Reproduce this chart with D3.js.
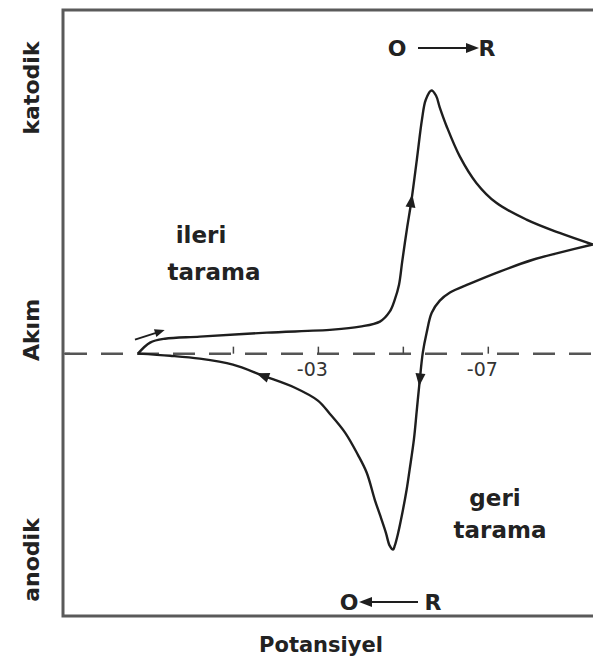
<!DOCTYPE html>
<html><head><meta charset="utf-8">
<script src="https://cdn.jsdelivr.net/npm/d3@7"></script>
<style>body{margin:0;background:#fff} svg{display:block}</style>
</head><body><svg id="chart" width="593" height="663"></svg>
<script>
// Cyclic voltammogram: potential (V) and current (arbitrary units)
// Forward (cathodic) sweep, from the start potential to the switching potential
const forwardE = [0.1235, 0.095, 0.06, -0.022, -0.18, -0.335, -0.399, -0.446, -0.469, -0.481, -0.491, -0.4985, -0.5094, -0.52, -0.533, -0.545, -0.554, -0.5675, -0.578, -0.587, -0.603, -0.634, -0.673, -0.720, -0.791, -0.869, -0.947];
const forwardI = [0, 0.42, 0.57, 0.65, 0.80, 0.915, 1.03, 1.22, 1.60, 2.06, 2.63, 3.51, 4.73, 5.81, 7.40, 8.92, 9.68, 10.03, 9.84, 9.38, 8.67, 7.52, 6.51, 5.75, 5.11, 4.60, 4.16];
// Reverse (anodic) sweep, back to the start potential
const reverseE = [-0.947, -0.869, -0.806, -0.728, -0.658, -0.611, -0.587, -0.568, -0.556, -0.547, -0.540, -0.533, -0.526, -0.516, -0.509, -0.498, -0.488, -0.481, -0.477, -0.469, -0.460, -0.446, -0.434, -0.415, -0.394, -0.364, -0.328, -0.3, -0.246, -0.171, -0.100, -0.022, 0.048, 0.1235];
const reverseI = [4.16, 3.85, 3.58, 3.13, 2.67, 2.33, 2.02, 1.56, 0.80, 0.04, -0.99, -2.13, -3.28, -4.42, -5.18, -6.14, -6.90, -7.32, -7.47, -7.32, -6.82, -6.14, -5.57, -4.54, -3.85, -3.01, -2.29, -1.79, -1.30, -0.84, -0.42, -0.19, -0.08, 0];

// Potential axis ticks along the zero-current line
const tickValues = [-0.1, -0.3, -0.5, -0.7];
const tickLabels = ["", "-03", "", "-07"];

// Sweep-direction arrowheads placed on the curve
const arrowBranch = ["forward", "reverse", "reverse"];
const arrowE = [-0.52, -0.540, -0.171];
const arrowI = [5.81, -0.99, -0.84];

// Short arrow showing where the scan starts
const startArrowE = [0.1306, 0.0718];
const startArrowI = [0.534, 0.84];

const W = 593, H = 663;
const mLeft = 63, mRight = 594, mTop = 10, mBottom = 616;
const svg = d3.select("#chart");
const ink = "#1e1e1e";
const font = "'DejaVu Sans', Verdana, sans-serif";

const x = d3.scaleLinear().domain([0.3, -0.95]).range([mLeft, mRight]);
const y = d3.scaleLinear().domain([-10, 13.1]).range([mBottom, mTop]);

// Frame: left, top and bottom rules
const frame = svg.append("g").attr("stroke", "#5a5a5a").attr("stroke-width", 3).attr("fill", "none");
frame.append("path").attr("d", `M${W},${mTop}H${mLeft}V${mBottom}H${W}`);
frame.append("line").attr("x1", mLeft).attr("x2", mLeft + 7).attr("y1", y(0)).attr("y2", y(0)).attr("stroke-width", 2);

// Zero-current dashed line
svg.append("line")
  .attr("x1", mLeft + 2).attr("x2", W).attr("y1", y(0)).attr("y2", y(0))
  .attr("stroke", "#555").attr("stroke-width", 2.5).attr("stroke-dasharray", "22,14");

// Potential ticks drawn with a D3 axis at the zero line
const axis = d3.axisBottom(x).tickValues(tickValues).tickSizeInner(-7).tickSizeOuter(0)
  .tickPadding(9).tickFormat((d, i) => tickLabels[i]);
const ag = svg.append("g").attr("transform", `translate(0,${y(0)})`).call(axis);
ag.select(".domain").remove();
ag.selectAll(".tick line").attr("stroke", "#444").attr("stroke-width", 1.5);
ag.selectAll(".tick text").attr("font-family", font).attr("font-size", 19).attr("fill", "#333")
  .attr("dx", -6);

// Voltammogram branches
const line = d3.line().x(d => x(d[0])).y(d => y(d[1])).curve(d3.curveCatmullRom.alpha(0.5));
const fwd = d3.zip(forwardE, forwardI);
const rev = d3.zip(reverseE, reverseI);
const paths = {};
paths.forward = svg.append("path").datum(fwd).attr("d", line)
  .attr("fill", "none").attr("stroke", ink).attr("stroke-width", 2.4).attr("stroke-linejoin", "round");
paths.reverse = svg.append("path").datum(rev).attr("d", line)
  .attr("fill", "none").attr("stroke", ink).attr("stroke-width", 2.4).attr("stroke-linejoin", "round");

// Arrowheads oriented along the path tangent
function tangentAt(node, px, py) {
  const total = node.getTotalLength();
  let best = 0, bestD = Infinity;
  for (let l = 0; l <= total; l += 0.5) {
    const p = node.getPointAtLength(l);
    const d = (p.x - px) ** 2 + (p.y - py) ** 2;
    if (d < bestD) { bestD = d; best = l; }
  }
  const a = node.getPointAtLength(Math.max(0, best - 3));
  const b = node.getPointAtLength(Math.min(total, best + 3));
  const c = node.getPointAtLength(best);
  return { x: c.x, y: c.y, angle: Math.atan2(b.y - a.y, b.x - a.x) * 180 / Math.PI };
}
const headPath = "M7,0L-6,-5L-6,5Z";
arrowBranch.forEach((br, i) => {
  const t = tangentAt(paths[br].node(), x(arrowE[i]), y(arrowI[i]));
  svg.append("path").attr("d", headPath).attr("fill", ink)
    .attr("transform", `translate(${t.x},${t.y}) rotate(${t.angle})`);
});

// Start-of-scan arrow
{
  const x1 = x(startArrowE[0]), y1 = y(startArrowI[0]), x2 = x(startArrowE[1]), y2 = y(startArrowI[1]);
  const ang = Math.atan2(y2 - y1, x2 - x1) * 180 / Math.PI;
  svg.append("line").attr("x1", x1).attr("y1", y1).attr("x2", x2).attr("y2", y2)
    .attr("stroke", ink).attr("stroke-width", 1.8);
  svg.append("path").attr("d", "M5,0L-5,-4L-5,4Z").attr("fill", ink)
    .attr("transform", `translate(${x2},${y2}) rotate(${ang})`);
}

// Text labels
function label(txt, tx, ty, size, rot) {
  const t = svg.append("text").text(txt).attr("font-family", font).attr("font-weight", "bold")
    .attr("font-size", size).attr("fill", "#222").attr("text-anchor", "middle");
  if (rot) t.attr("transform", `translate(${tx},${ty}) rotate(${rot})`);
  else t.attr("x", tx).attr("y", ty);
  return t;
}
label("katodik", 39, 88, 22, -90);
label("Akım", 39, 330, 22, -90);
label("anodik", 39, 560, 22, -90);
label("ileri", 201, 243, 23);
label("tarama", 214, 280, 23);
label("geri", 495, 506, 23);
label("tarama", 500, 538, 23);
label("Potansiyel", 321, 652, 21);

// Redox direction markers: O → R above, O ← R below
function redox(xO, xR, xa, xb, cy, toRight) {
  label("O", xO, cy + 8, 22);
  label("R", xR, cy + 8, 22);
  svg.append("line").attr("x1", xa).attr("x2", xb).attr("y1", cy).attr("y2", cy)
    .attr("stroke", ink).attr("stroke-width", 2);
  const hx = toRight ? xb : xa;
  svg.append("path").attr("d", "M7,0L-6,-5L-6,5Z").attr("fill", ink)
    .attr("transform", `translate(${hx},${cy}) rotate(${toRight ? 0 : 180})`);
}
redox(397, 487, 418, 472, 48, true);
redox(349, 433, 366, 418, 602, false);
</script></body></html>
